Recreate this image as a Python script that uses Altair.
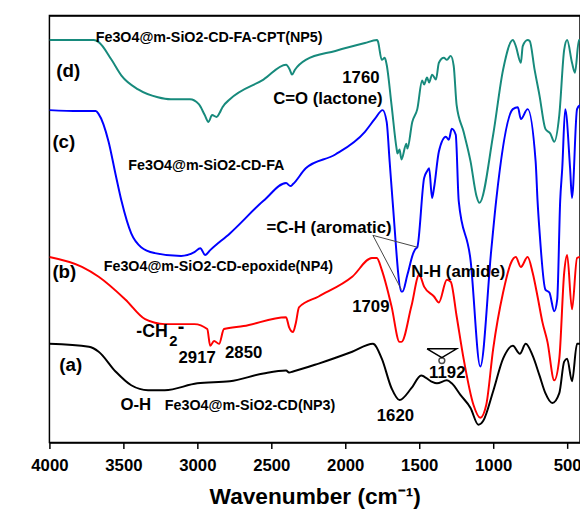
import altair as alt
import pandas as pd

# ---- spectra (wavenumber cm-1, transmittance a.u., offset curves) ----
d_wn = [4000, 3700, 3667, 3580, 3513, 3400, 3267, 3180, 3050, 2990, 2950, 2925, 2900, 2870, 2850, 2830, 2780,
        2553, 2400, 2375, 2360, 2340, 2267, 2067, 1867, 1787, 1780, 1753, 1733, 1720, 1687, 1653, 1647, 1633,
        1620, 1587, 1580, 1547, 1513, 1480, 1467, 1447, 1433, 1413, 1387, 1367, 1333, 1313, 1287, 1267, 1247,
        1200, 1153, 1113, 1093, 1000, 933, 867, 847, 813, 800, 767, 753, 720, 687, 647, 613, 587, 553, 520,
        500, 467, 447, 420, 413]
d_val = [408, 408, 406, 388, 372, 358, 350, 348, 348, 343, 332, 325, 332, 330, 334, 340, 348,
         368, 383, 378, 373, 378, 388, 397, 405, 408, 407, 388, 390, 383, 342, 298, 293, 297,
         287, 303, 298, 325, 338, 367, 363, 370, 365, 373, 368, 385, 390, 388, 392, 382, 342,
         315, 285, 250, 243, 312, 378, 408, 402, 385, 402, 408, 407, 378, 352, 318, 313, 305, 332, 398,
         408, 385, 375, 408, 408]

c_wn = [4000, 3800, 3687, 3667, 3600, 3553, 3513, 3447, 3380, 3287, 3110, 3020, 2980, 2947, 2913, 2780,
        2553, 2400, 2370, 2353, 2267, 2067, 1867, 1800, 1747, 1720, 1700, 1680, 1620, 1613, 1580, 1540,
        1527, 1513, 1467, 1447, 1433, 1413, 1400, 1367, 1320, 1300, 1280, 1253, 1233, 1153, 1087, 1013,
        980, 867, 833, 813, 767, 713, 700, 687, 647, 620, 587, 567, 547, 533, 513, 480, 467, 433, 413]
c_val = [337, 336, 336, 333, 305, 272, 245, 212, 198, 192, 189, 193, 197, 190, 195, 212,
         245, 263, 260, 262, 278, 292, 315, 328, 337, 325, 285, 245, 153, 153, 170, 192,
         196, 198, 268, 275, 278, 248, 258, 295, 310, 307, 318, 312, 245, 185, 77, 195,
         245, 338, 340, 328, 338, 285, 245, 215, 155, 152, 133, 145, 245, 278, 338, 278, 248, 338, 342]

b_wn = [4000, 3780, 3667, 3487, 3353, 3220, 3020, 2933, 2913, 2887, 2853, 2820, 2687, 2400, 2380, 2353,
        2333, 2313, 2180, 1953, 1820, 1787, 1753, 1720, 1687, 1633, 1620, 1553, 1500, 1467, 1400, 1367,
        1313, 1287, 1247, 1200, 1133, 1087, 1047, 1000, 933, 880, 847, 813, 767, 733, 700, 667, 633, 587,
        553, 520, 500, 467, 433, 413]
b_val = [188, 178, 168, 145, 125, 120, 120, 115, 98, 103, 100, 115, 118, 127, 117, 112,
         122, 137, 148, 168, 187, 187, 175, 158, 138, 102, 102, 138, 170, 158, 148, 142,
         165, 163, 128, 85, 38, 25, 38, 95, 152, 182, 188, 178, 188, 172, 148, 122, 102, 63,
         85, 172, 190, 135, 187, 188]

a_wn = [4000, 3733, 3667, 3553, 3447, 3333, 3220, 3000, 2780, 2553, 2400, 2380, 2353, 2180, 1953, 1813,
        1753, 1687, 1633, 1553, 1487, 1420, 1380, 1313, 1280, 1220, 1153, 1100, 1067, 1000, 933, 867,
        820, 780, 733, 687, 647, 600, 553, 520, 500, 467, 433, 413]
a_val = [100, 97, 92, 72, 58, 53, 53, 60, 62, 70, 73, 71, 72, 80, 92, 100,
         85, 55, 43, 55, 68, 62, 60, 63, 60, 48, 35, 18, 22, 52, 85, 98,
         90, 100, 88, 68, 50, 40, 50, 82, 85, 62, 100, 100]

series = ["a", "b", "c", "d"]
colors = ["#000000", "#ff0000", "#0000ff", "#178a7c"]

# ---- annotations ----
lab_text = ["Fe3O4@m-SiO2-CD-FA-CPT(NP5)", "(d)", "1760", "C=O (lactone)", "(c)", "Fe3O4@m-SiO2-CD-FA",
            "=C-H (aromatic)", "N-H (amide)", "(b)", "Fe3O4@m-SiO2-CD-epoxide(NP4)", "-CH", "2", "-",
            "2917", "2850", "(a)", "O-H", "Fe3O4@m-SiO2-CD(NP3)", "1709", "1620", "1192"]
lab_wn = [3687, 3953, 2020, 2487, 3980, 3467, 2533, 1553, 3980, 3633, 3413, 3190, 3133,
          3127, 2813, 3933, 3520, 3220, 1953, 1787, 1433]
lab_val = [410, 377, 370, 348, 305, 280, 217, 173, 173, 178, 112, 103, 117,
           86, 91, 78, 38, 37, 137, 27, 70]
lab_size = [14.5, 19, 17, 17, 19, 14.5, 17, 17, 19, 14.5, 18, 15, 20,
            17, 17, 19, 17, 14.5, 17, 17, 17]

arrow_wn = [1813, 1513, 1813, 1620]
arrow_val = [210, 198, 210, 155]
arrow_grp = ["p1", "p1", "p2", "p2"]

sym_wn = [1447, 1247, 1347, 1447]
sym_val = [95, 95, 86, 95]
circ_wn = [1347]
circ_val = [83]

rows = []
for s, w, v in [("a", a_wn, a_val), ("b", b_wn, b_val), ("c", c_wn, c_val), ("d", d_wn, d_val)]:
    for i, (ww, vv) in enumerate(zip(w, v)):
        rows.append({"series": s, "wn": ww, "val": vv, "ord": i})
spec = pd.DataFrame(rows)
labels = pd.DataFrame({"text": lab_text, "wn": lab_wn, "val": lab_val, "size": lab_size})
arrows = pd.DataFrame({"wn": arrow_wn, "val": arrow_val, "grp": arrow_grp})
sym = pd.DataFrame({"wn": sym_wn, "val": sym_val, "ord": list(range(len(sym_wn)))})
circ = pd.DataFrame({"wn": circ_wn, "val": circ_val})

xscale = alt.Scale(domain=[4000, 413], nice=False, zero=False)
yscale = alt.Scale(domain=[0, 433], nice=False, zero=False)

xax = alt.Axis(values=[4000, 3500, 3000, 2500, 2000, 1500, 1000, 500], format="d", title="Wavenumber (cm⁻¹)",
               grid=False, labelFont="Liberation Sans", labelFontWeight="bold", labelFontSize=17,
               labelColor="black", tickColor="black", tickSize=6, tickWidth=1.5, domainColor="black",
               domainWidth=1.5, labelPadding=9, titleFont="Liberation Sans", titleFontWeight="bold",
               titleFontSize=23, titleColor="black", titlePadding=13, labelFlush=False)
yax = alt.Axis(title="Transmitance (%)", labels=False, ticks=False, grid=False, domainColor="black",
               domainWidth=1.5, titleFont="Liberation Sans", titleFontWeight="bold", titleFontSize=20,
               titleColor="black", titlePadding=19)
top_ax = alt.Axis(orient="top", labels=False, ticks=False, title=None, grid=False,
                  domainColor="black", domainWidth=1.5)

lines = alt.Chart(spec).mark_line(strokeWidth=2, interpolate="monotone", clip=True).encode(
    x=alt.X("wn:Q", scale=xscale, axis=xax),
    y=alt.Y("val:Q", scale=yscale, axis=yax),
    color=alt.Color("series:N", scale=alt.Scale(domain=series, range=colors), legend=None),
    order="ord:Q",
    detail="series:N",
)

# invisible copy that only carries the top edge of the frame
top_edge = alt.Chart(spec).mark_line(opacity=0).encode(
    x=alt.X("wn:Q", scale=xscale, axis=top_ax),
    y=alt.Y("val:Q", scale=yscale, axis=None),
    detail="series:N",
)

text = alt.Chart(labels).mark_text(align="left", baseline="middle", font="Liberation Sans",
                                   fontWeight="bold", color="black").encode(
    x=alt.X("wn:Q", scale=xscale, axis=None),
    y=alt.Y("val:Q", scale=yscale, axis=None),
    text="text:N",
    size=alt.Size("size:Q", scale=None),
)

arrow_lines = alt.Chart(arrows).mark_line(color="#444444", strokeWidth=1).encode(
    x=alt.X("wn:Q", scale=xscale, axis=None),
    y=alt.Y("val:Q", scale=yscale, axis=None),
    detail="grp:N",
)

sym_line = alt.Chart(sym).mark_line(color="black", strokeWidth=1.5).encode(
    x=alt.X("wn:Q", scale=xscale, axis=None),
    y=alt.Y("val:Q", scale=yscale, axis=None),
    order="ord:Q",
)

circ_pt = alt.Chart(circ).mark_point(shape="circle", size=35, color="black", filled=False,
                                     strokeWidth=1.5).encode(
    x=alt.X("wn:Q", scale=xscale, axis=None),
    y=alt.Y("val:Q", scale=yscale, axis=None),
)

chart = alt.layer(lines, top_edge, arrow_lines, sym_line, circ_pt, text).resolve_axis(
    x="independent"
).properties(
    width=538, height=433,
    padding={"left": 42, "top": 4, "right": 0, "bottom": 70},
    autosize="none",
    background="white",
).configure_view(stroke="black", strokeWidth=1.5)

chart.save("out.html", embed_options={"renderer": "svg", "actions": False})
